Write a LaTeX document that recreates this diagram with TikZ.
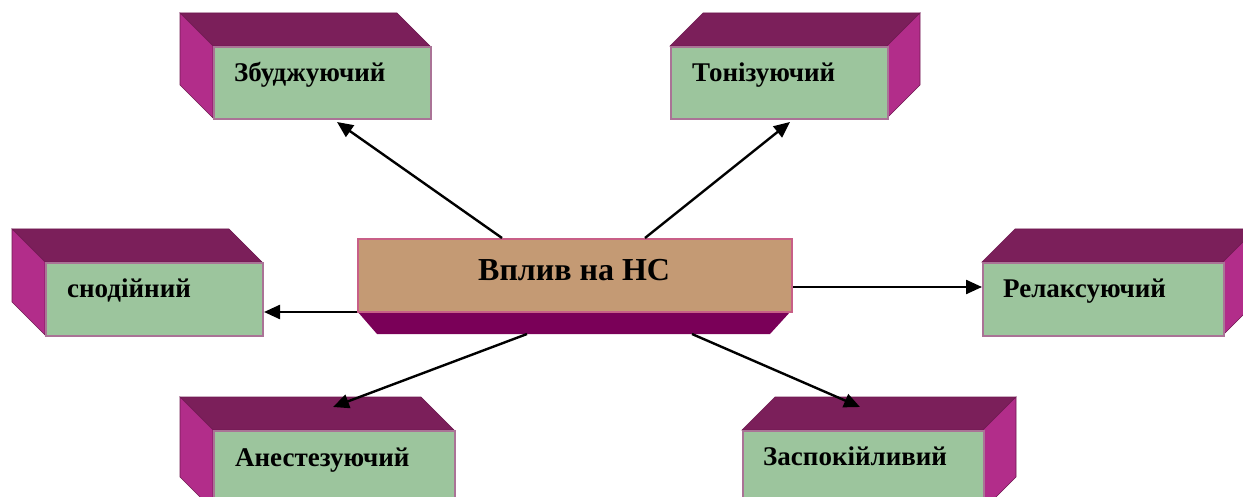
\documentclass[tikz,border=0pt]{standalone}
\usepackage{fontspec}
\setmainfont{Liberation Serif}
\usetikzlibrary{arrows.meta}

\definecolor{facegreen}{RGB}{156,197,157}
\definecolor{faceedge}{RGB}{170,115,150}
\definecolor{topface}{RGB}{123,31,90}
\definecolor{sideface}{RGB}{178,45,138}
\definecolor{rimedge}{RGB}{110,25,80}
\definecolor{hubface}{RGB}{196,154,116}
\definecolor{hubedge}{RGB}{200,95,135}
\definecolor{hubbase}{RGB}{122,0,88}

\tikzset{
  front/.style={draw=faceedge, line width=2pt, fill=facegreen, inner sep=0pt},
  topf/.style={fill=topface, draw=rimedge, line width=0.6pt},
  sidef/.style={fill=sideface, draw=rimedge, line width=0.6pt},
  lbl/.style={font=\bfseries\fontsize{27}{30}\selectfont, inner sep=0pt},
  hublbl/.style={font=\bfseries\fontsize{32}{36}\selectfont, inner sep=0pt},
  arr/.style={line width=2.4pt, -{Triangle[length=16pt,width=14pt]}},
}

% box with its side face on the left: name, x, y, width, height
\newcommand\boxleft[5]{%
  \filldraw[topf] (#2,#3) -- ++(#4,0) -- ++(-33,-33) -- ++(-#4,0) -- cycle;
  \filldraw[sidef] (#2,#3) -- ++(-33,-33) -- ++(0,#5) -- ++(33,33) -- cycle;
  \node[front, anchor=north west, minimum width=#4pt, minimum height=#5pt] (#1) at (#2,#3) {};
}
% box with its side face on the right: name, x, y, width, height
\newcommand\boxright[5]{%
  \filldraw[topf] (#2,#3) -- ++(#4,0) -- ++(33,-33) -- ++(-#4,0) -- cycle;
  \filldraw[sidef] (#2+#4,#3) -- ++(33,-33) -- ++(0,#5) -- ++(-33,33) -- cycle;
  \node[front, anchor=north west, minimum width=#4pt, minimum height=#5pt] (#1) at (#2,#3) {};
}

\begin{document}
\begin{tikzpicture}[x=1pt,y=-1pt]
\useasboundingbox (0,0) rectangle (1243,497);
\clip (0,0) rectangle (1243,497);

% outer boxes
\boxleft{zb}{213}{46}{217}{72}
\boxright{ton}{670}{46}{217}{72}
\boxleft{snod}{45}{262}{217}{73}
\boxright{rel}{982}{262}{241}{73}
\boxleft{an}{213}{430}{241}{80}
\boxright{zas}{742}{430}{241}{80}

\node[lbl, anchor=base west] (tzb) at (234,82) {Збуджуючий};
\node[lbl, anchor=base west] (tton) at (692,82) {Тонізуючий};
\node[lbl, anchor=base west] (tsnod) at (67,298) {снодійний};
\node[lbl, anchor=base west] (trel) at (1003,298) {Релаксуючий};
\node[lbl, anchor=base west] (tan) at (235,466) {Анестезуючий};
\node[lbl, anchor=base west] (tzas) at (763,465) {Заспокійливий};

% central box
\fill[hubbase] (357,311) -- (791,311) -- (770,334) -- (377,334) -- cycle;
\coordinate (cbl) at (377,334);
\node[draw=hubedge, line width=2pt, fill=hubface, inner sep=0pt, anchor=north west,
      minimum width=434pt, minimum height=73pt] (c) at (357,238) {};
\node[hublbl, anchor=base west] (tc) at (478,280) {Вплив на НС};

% connectors
\draw[arr] ([xshift=145pt]c.north west) -- ([xshift=124pt,yshift=-2pt]zb.south west);
\draw[arr] ([xshift=288pt]c.north west) -- ([xshift=120pt,yshift=-2pt]ton.south west);
\draw[arr] ([yshift=1pt]c.south west) -- ([yshift=25pt]snod.south east);
\draw[arr] ([yshift=-49pt]c.north east) -- ([yshift=-25pt]rel.north west);
\draw[arr] ([xshift=150pt]cbl) -- ([xshift=120pt,yshift=23pt]an.north west);
\draw[arr] ([xshift=315pt]cbl) -- ([xshift=118pt,yshift=23pt]zas.north west);
\end{tikzpicture}
\end{document}
